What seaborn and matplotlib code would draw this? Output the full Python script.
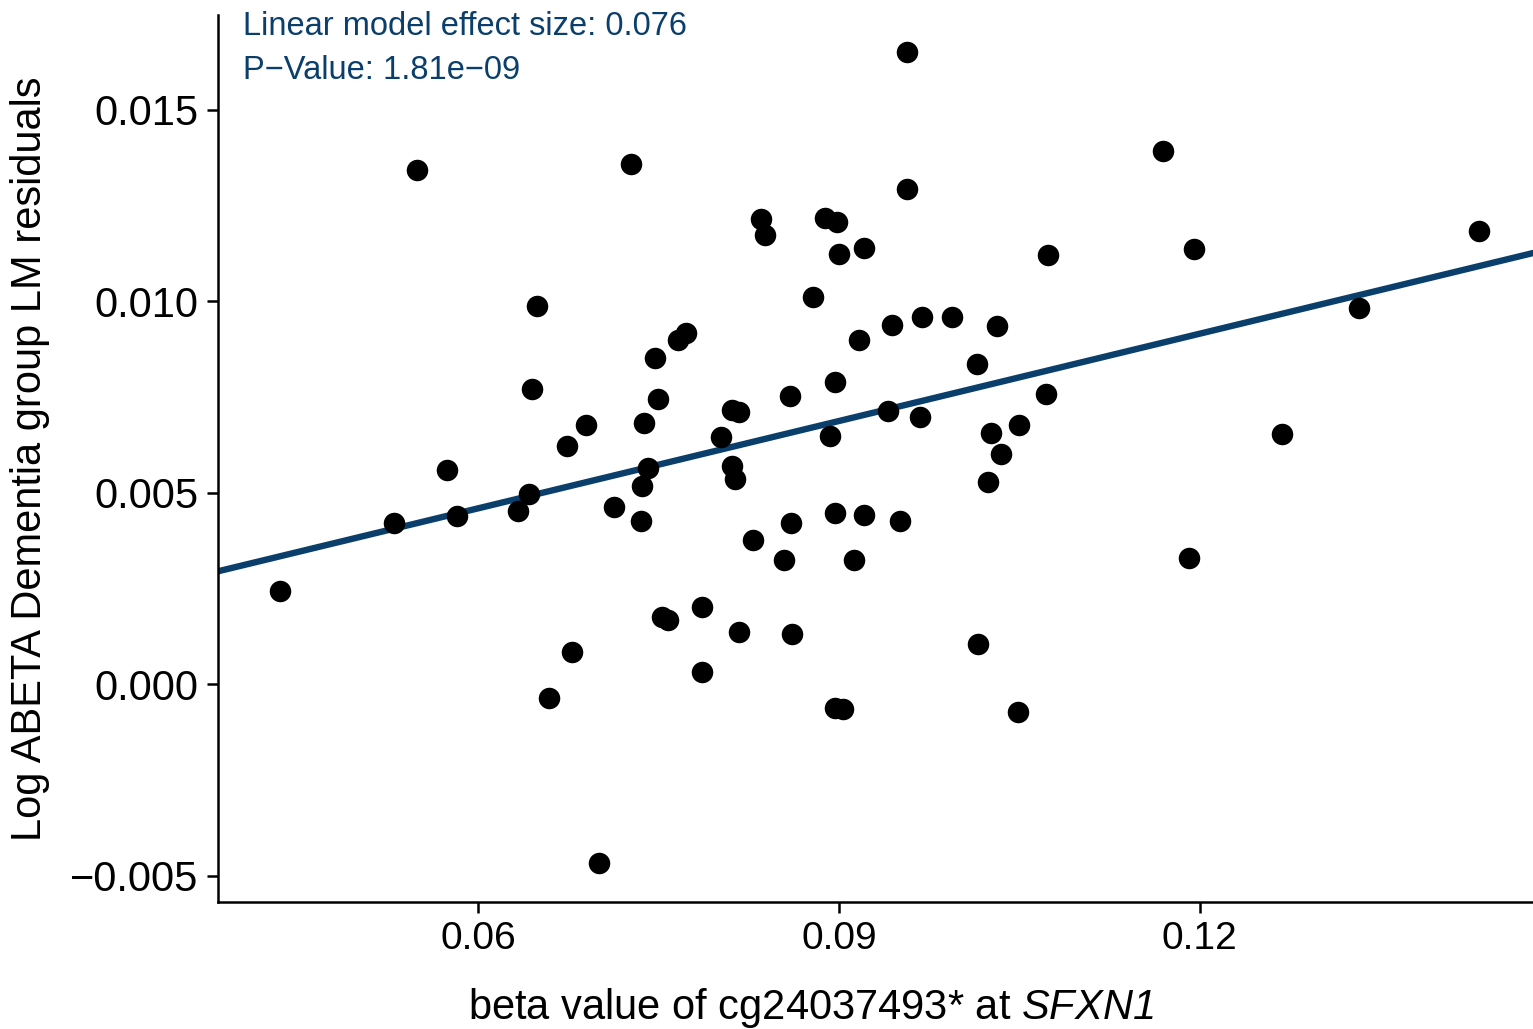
import numpy as np
import pandas as pd
import matplotlib
matplotlib.use("Agg")
import matplotlib.pyplot as plt
import seaborn as sns

# ---- data ----
beta_values = [
    0.04348, 0.05296, 0.05488, 0.05737, 0.05820, 0.06328, 0.06420, 0.06445,
    0.06486, 0.06586, 0.06736, 0.06777, 0.06894, 0.07002, 0.07127, 0.07268,
    0.07351, 0.07360, 0.07377, 0.07410, 0.07468, 0.07493, 0.07526, 0.07576,
    0.07660, 0.07731, 0.07864, 0.07864, 0.08022, 0.08106, 0.08114, 0.08131,
    0.08164, 0.08172, 0.08281, 0.08347, 0.08381, 0.08539, 0.08589, 0.08598,
    0.08606, 0.08781, 0.08881, 0.08922, 0.08964, 0.08964, 0.08980, 0.08964,
    0.08997, 0.09030, 0.09122, 0.09164, 0.09206, 0.09206, 0.09405, 0.09438,
    0.09505, 0.09563, 0.09563, 0.09672, 0.09688, 0.09938, 0.10146, 0.10154,
    0.10238, 0.10263, 0.10313, 0.10346, 0.10488, 0.10496, 0.10721, 0.10737,
    0.11694, 0.11911, 0.11952, 0.12684, 0.13325, 0.14324,
]
residuals = [
    0.00243, 0.00420, 0.01342, 0.00559, 0.00439, 0.00452, 0.00496, 0.00770,
    0.00987, -0.00037, 0.00622, 0.00084, 0.00676, -0.00467, 0.00462, 0.01358,
    0.00426, 0.00517, 0.00681, 0.00564, 0.00852, 0.00744, 0.00175, 0.00167,
    0.00898, 0.00916, 0.00201, 0.00031, 0.00644, 0.00716, 0.00569, 0.00535,
    0.00710, 0.00136, 0.00376, 0.01214, 0.01172, 0.00324, 0.00752, 0.00420,
    0.00131, 0.01010, 0.01217, 0.00648, 0.00789, 0.00447, 0.01206, -0.00063,
    0.01123, -0.00065, 0.00324, 0.00899, 0.00441, 0.01138, 0.00714, 0.00937,
    0.00425, 0.01292, 0.01650, 0.00697, 0.00958, 0.00958, 0.00835, 0.00104,
    0.00527, 0.00655, 0.00935, 0.00601, -0.00073, 0.00676, 0.00757, 0.01120,
    0.01392, 0.00329, 0.01136, 0.00654, 0.00982, 0.01183,
]
# linear model shown in the reference (slope = reported effect size)
model_slope = 0.076
model_intercept = 0.00003
x_ticks = [0.06, 0.09, 0.12]
y_ticks = [-0.005, 0.000, 0.005, 0.010, 0.015]
annotation_lines = ["Linear model effect size: 0.076", "P\u2212Value: 1.81e\u221209"]

df = pd.DataFrame({"beta": beta_values, "resid": residuals})

sns.set_theme(style="ticks")
plt.rcParams["font.family"] = ["Liberation Sans", "DejaVu Sans"]
plt.rcParams["mathtext.fontset"] = "custom"
plt.rcParams["mathtext.rm"] = "Liberation Sans:italic"
plt.rcParams["mathtext.it"] = "Liberation Sans:italic"

line_color = "#0b3f6b"

fig = plt.figure(figsize=(15.33, 10.29), dpi=100)
ax = fig.add_axes([0.1422, 0.1234, 0.8578, 0.8620])
ax.set_xlim(0.03836, 0.1477)
ax.set_ylim(-0.00569, 0.01747)

sns.scatterplot(data=df, x="beta", y="resid", ax=ax, s=240, color="black",
                linewidth=0, zorder=3, legend=False)
ax.axline((0.0, model_intercept), slope=model_slope, color=line_color,
          linewidth=4.6, zorder=2)

ax.set_xticks(x_ticks)
ax.set_xticklabels([f"{v:.2f}" for v in x_ticks])
ax.set_yticks(y_ticks)
ax.set_yticklabels([f"{v:.3f}".replace("-", "\u2212") for v in y_ticks])
ax.tick_params(axis="both", length=8, width=1.8, color="black",
               labelcolor="black", direction="out", pad=6)
ax.tick_params(axis="x", labelsize=28)
ax.tick_params(axis="y", labelsize=30)

for side in ["left", "bottom"]:
    ax.spines[side].set_linewidth(1.8)
    ax.spines[side].set_color("black")
sns.despine(ax=ax)

ax.set_xlabel("beta value of cg24037493* at $SFXN1$", fontsize=30,
              color="black")
ax.set_ylabel("Log ABETA Dementia group LM residuals", fontsize=30,
              color="black")
ax.xaxis.set_label_coords(0.451, -0.095, transform=ax.transAxes)
ax.yaxis.set_label_coords(-0.1275, 0.5, transform=ax.transAxes)

ax.text(0.019, 0.9876, annotation_lines[0], transform=ax.transAxes, fontsize=23.5,
        color=line_color, va="center", ha="left")
ax.text(0.019, 0.938, annotation_lines[1], transform=ax.transAxes, fontsize=23.5,
        color=line_color, va="center", ha="left")

fig.savefig("out.png", dpi=100)
